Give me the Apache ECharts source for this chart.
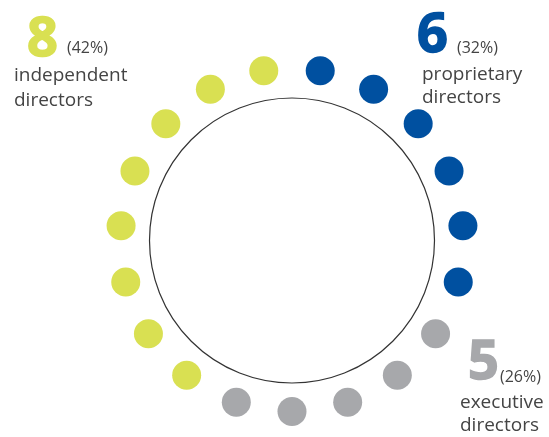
<!DOCTYPE html>
<html>
<head>
<meta charset="utf-8">
<script src="https://cdn.jsdelivr.net/npm/echarts@6/dist/echarts.min.js"></script>
<style>html,body{margin:0;padding:0;background:#fff}#c{width:549px;height:437px}</style>
</head>
<body>
<div id="c"></div>
<script>
// Data
var groups = ['proprietary', 'executive', 'independent'];
var groupLabels = ['proprietary\ndirectors', 'executive\ndirectors', 'independent\ndirectors'];
var counts = [6, 5, 8];
var percents = ['32%', '26%', '42%'];
var colors = ['#0050a0', '#a7a8ab', '#d9e052'];

var total = counts.reduce(function (a, b) { return a + b; }, 0);

// one dot per director, placed on the angle axis by its seat index
var dots = [];
var seat = 0;
counts.forEach(function (n, g) {
  for (var i = 0; i < n; i++) {
    dots.push({ value: [1, seat + 0.5], itemStyle: { color: colors[g], opacity: 1 } });
    seat++;
  }
});

var textColor = '#444';
var font = '"Open Sans", "Noto Sans", sans-serif';

// label layout: [numX, numY, pctX, pctY, lblX, line1Y, lineGap]
var labelPos = [
  [417, 37, 457, 48, 422, 75, 23],
  [468, 364, 500, 377, 460, 403, 23],
  [27, 41, 67, 48, 14, 76, 25]
];

var graphics = [];
groups.forEach(function (g, k) {
  var p = labelPos[k];
  graphics.push({
    type: 'text', x: p[0], y: p[1],
    style: { text: String(counts[k]), fill: colors[k], stroke: colors[k], lineWidth: 1.5,
      font: 'bold 54px ' + font, textAlign: 'left', textVerticalAlign: 'middle' }
  });
  graphics.push({
    type: 'text', x: p[2], y: p[3],
    style: { text: '(' + percents[k] + ')', fill: textColor, font: '16px ' + font, textAlign: 'left', textVerticalAlign: 'middle' }
  });
  groupLabels[k].split('\n').forEach(function (line, j) {
    graphics.push({
      type: 'text', x: p[4], y: p[5] + j * p[6],
      style: { text: line, fill: textColor, font: '19px ' + font, textAlign: 'left', textVerticalAlign: 'middle' }
    });
  });
});

var chart = echarts.init(document.getElementById('c'), null, { renderer: 'canvas' });
chart.setOption({
  backgroundColor: '#fff',
  animation: false,
  polar: [
    { center: [292, 240], radius: 171.5 },
    { center: [292, 240.5], radius: 142.5 }
  ],
  angleAxis: [
    { polarIndex: 0, type: 'value', min: 0, max: total, startAngle: 90, clockwise: true, show: false },
    { polarIndex: 1, type: 'value', min: 0, max: 1, startAngle: 90, clockwise: true,
      axisLine: { show: true, lineStyle: { color: '#333', width: 1.2 } },
      axisTick: { show: false }, axisLabel: { show: false }, splitLine: { show: false } }
  ],
  radiusAxis: [
    { polarIndex: 0, type: 'value', min: 0, max: 1, show: false },
    { polarIndex: 1, type: 'value', min: 0, max: 1, show: false }
  ],
  series: [{
    type: 'scatter',
    coordinateSystem: 'polar',
    polarIndex: 0,
    symbol: 'circle',
    symbolSize: 29,
    itemStyle: { opacity: 1 },
    data: dots,
    silent: true
  }],
  graphic: graphics
});
</script>
</body>
</html>
